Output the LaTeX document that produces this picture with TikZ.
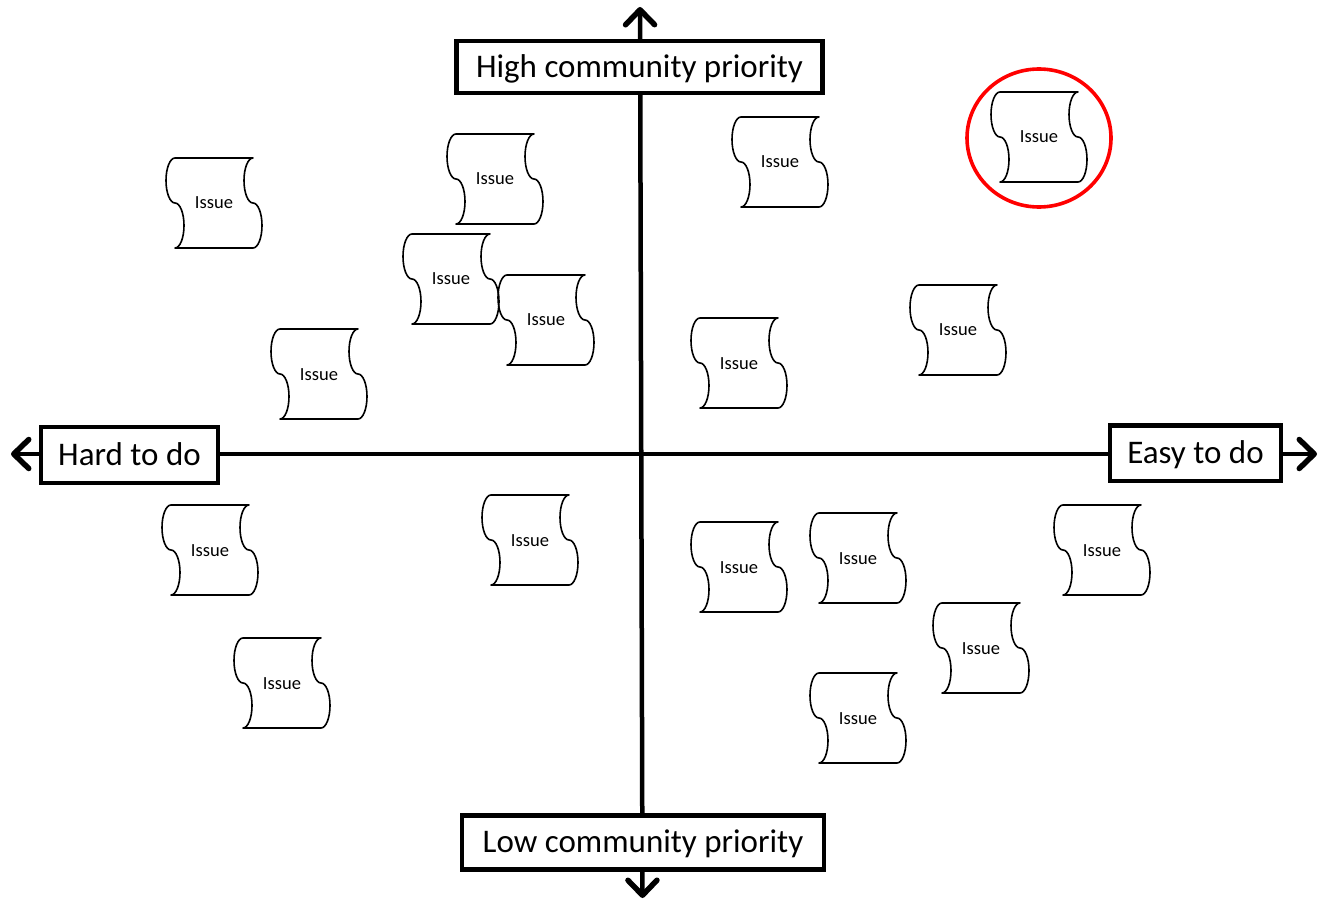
\documentclass[tikz,border=0pt]{standalone}
\usepackage{fontspec}
\setmainfont{Carlito}
\usetikzlibrary{arrows.meta,shapes.geometric,backgrounds}

\tikzset{
  barb/.tip={Straight Barb[length=15pt,width=29pt,line width=5.5pt,round]},
  axis/.style={line width=4.5pt, barb-barb},
  label box/.style={draw, line width=4.5pt, fill=white, font=\fontsize{33}{36}\selectfont,
    inner sep=0pt, text height=20.5pt, text depth=0pt},
  issue/.style={font=\fontsize{18.5}{20}\selectfont, inner sep=0pt, text height=12pt, text depth=0pt,
    minimum width=96pt, minimum height=90pt},
  issue outline/.style={line width=1.6pt, line join=round},
  highlight/.style={draw=red, line width=3.6pt, ellipse, minimum width=144pt, minimum height=138pt, inner sep=0pt},
}

\begin{document}
\begin{tikzpicture}[x=1pt, y=-1pt]
  \useasboundingbox (0,0) rectangle (1320,901);

  % axis labels
  \node[label box, minimum width=366pt, minimum height=52pt] (high) at (639.5,67) {High community priority};
  \node[label box, minimum width=362pt, minimum height=54pt] (low)  at (643,842.5) {Low community priority};
  \node[label box, minimum width=177pt, minimum height=56pt] (hard) at (129.5,455) {Hard to do};
  \node[label box, minimum width=171pt, minimum height=55.5pt] (easy) at (1195.5,453.3) {Easy to do};

  % axis ends
  \coordinate (north) at (640,7);
  \coordinate (south) at (642.5,898);
  \coordinate (west)  at (11,454);
  \coordinate (east)  at (1317,454);

  \begin{pgfonlayer}{background}
    \draw[axis] (south) -- (north);
    \draw[axis] (west) -- (east);
  \end{pgfonlayer}

  % issues
  \node[issue] (i1)  at (214,203) {Issue};
  \node[issue] (i2)  at (495,179) {Issue};
  \node[issue] (i3)  at (780,162) {Issue};
  \node[issue] (i4)  at (1039,137) {Issue};
  \node[issue] (i5)  at (451,279) {Issue};
  \node[issue] (i6)  at (546,320) {Issue};
  \node[issue] (i7)  at (319,374) {Issue};
  \node[issue] (i8)  at (739,363) {Issue};
  \node[issue] (i9)  at (958,330) {Issue};
  \node[issue] (i10) at (210,550) {Issue};
  \node[issue] (i11) at (530,540) {Issue};
  \node[issue] (i12) at (739,567) {Issue};
  \node[issue] (i13) at (858,558) {Issue};
  \node[issue] (i14) at (1102,550) {Issue};
  \node[issue] (i15) at (981,648) {Issue};
  \node[issue] (i16) at (282,683) {Issue};
  \node[issue] (i17) at (858,718) {Issue};

  % wavy page outline around each issue
  \foreach \n in {i1,i2,i3,i4,i5,i6,i7,i8,i9,i10,i11,i12,i13,i14,i15,i16,i17} {
    \draw[issue outline, shift={(\n.center)}]
      (-39,-45) -- (39,-45)
      .. controls (34.03,-45) and (30,-34.93) .. (30,-22.5)
      .. controls (30,-10.07) and (34.03,0) .. (39,0)
      .. controls (43.97,0) and (48,10.07) .. (48,22.5)
      .. controls (48,34.93) and (43.97,45) .. (39,45)
      -- (-39,45)
      .. controls (-34.03,45) and (-30,34.93) .. (-30,22.5)
      .. controls (-30,10.07) and (-34.03,0) .. (-39,0)
      .. controls (-43.97,0) and (-48,-10.07) .. (-48,-22.5)
      .. controls (-48,-34.93) and (-43.97,-45) .. (-39,-45)
      -- cycle;
  }

  % highlighted issue
  \node[highlight] (focus) at (1039,138) {};
\end{tikzpicture}
\end{document}
